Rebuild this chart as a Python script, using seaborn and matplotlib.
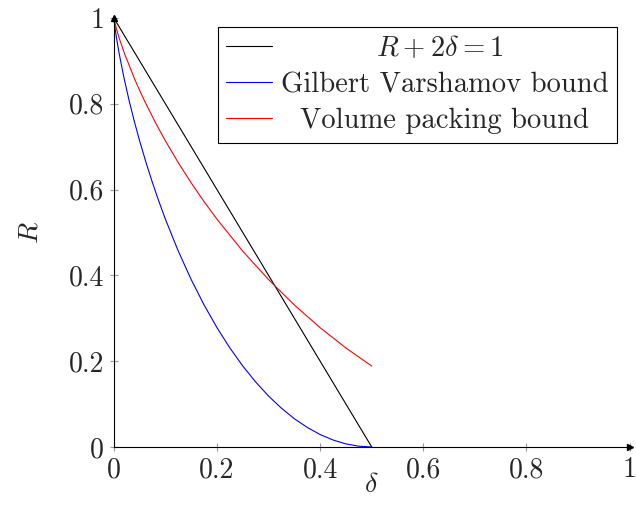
import matplotlib
matplotlib.use("Agg")
import matplotlib.pyplot as plt
import pandas as pd
import seaborn as sns

# values
line_delta = [0.0, 0.5]
line_rate = [1.0, 0.0]

gv_delta = [0.0, 0.0025, 0.005, 0.01, 0.02, 0.03, 0.04, 0.05, 0.0625, 0.075,
            0.0875, 0.1, 0.125, 0.15, 0.175, 0.2, 0.225, 0.25, 0.275, 0.3,
            0.325, 0.35, 0.375, 0.4, 0.425, 0.45, 0.475, 0.5]
gv_rate = [1.0, 0.9748, 0.9546, 0.9192, 0.8586, 0.8056, 0.7577, 0.7136, 0.6627,
           0.6157, 0.5719, 0.5310, 0.4564, 0.3902, 0.3310, 0.2781, 0.2308,
           0.1887, 0.1515, 0.1187, 0.0903, 0.0659, 0.0456, 0.0290, 0.0163,
           0.0072, 0.0018, 0.0]

vp_delta = [0.0, 0.005, 0.01, 0.02, 0.04, 0.05, 0.06, 0.08, 0.1, 0.125, 0.15,
            0.175, 0.2, 0.25, 0.3, 0.35, 0.4, 0.45, 0.5]
vp_rate = [1.0, 0.9748, 0.9546, 0.9192, 0.8586, 0.8313, 0.8056, 0.7577, 0.7136,
           0.6627, 0.6157, 0.5719, 0.5310, 0.4564, 0.3902, 0.3310, 0.2781,
           0.2308, 0.1887]

tick_values = [0, 0.2, 0.4, 0.6, 0.8, 1]
tick_labels = ["0", "0.2", "0.4", "0.6", "0.8", "1"]

series = [
    (line_delta, line_rate, "black", r"$R+2\delta=1$"),
    (gv_delta, gv_rate, "blue", "Gilbert Varshamov bound"),
    (vp_delta, vp_rate, "red", "Volume packing bound"),
]

sns.set_style("ticks")
plt.rcParams["font.family"] = ["cmr10", "DejaVu Serif"]
plt.rcParams["mathtext.fontset"] = "cm"
plt.rcParams["axes.formatter.use_mathtext"] = True
plt.rcParams["font.size"] = 20

fig = plt.figure(figsize=(6.36, 5.22), dpi=100)
ax = fig.add_axes([0.179, 0.1437, 0.811, 0.8218])

for xs, ys, color, label in series:
    df = pd.DataFrame({"delta": xs, "R": ys})
    sns.lineplot(data=df, x="delta", y="R", color=color, label=label,
                 linewidth=0.8, ax=ax, clip_on=False)

ax.set_xlim(0, 1)
ax.set_ylim(0, 1)
ax.set_xticks(tick_values)
ax.set_xticklabels(tick_labels)
ax.set_yticks(tick_values)
ax.set_yticklabels(tick_labels)
ax.tick_params(direction="inout", length=6, width=0.8, color="#999999",
               labelsize=20, pad=4)

for side in ["top", "right"]:
    ax.spines[side].set_visible(False)
for side in ["left", "bottom"]:
    ax.spines[side].set_linewidth(0.8)
    ax.spines[side].set_color("black")

# arrow heads at the axis ends
ax.plot(1, 0, ">k", markersize=5, transform=ax.get_yaxis_transform(),
        clip_on=False)
ax.plot(0, 1, "^k", markersize=5, transform=ax.get_xaxis_transform(),
        clip_on=False)

ax.set_xlabel(r"$\delta$", fontsize=20, labelpad=-8)
ax.set_ylabel(r"$R$", fontsize=20, labelpad=18)

# pgfplots centres the legend entries; pad with leading spaces to mimic it
LEG_SIZE = 20.6
renderer = fig.canvas.get_renderer()


def text_width(s):
    t = fig.text(0, 0, s, fontsize=LEG_SIZE)
    w = t.get_window_extent(renderer).width
    t.remove()
    return w


handles, labels = ax.get_legend_handles_labels()
widest = max(text_width(s) for s in labels)
centred = []
for s in labels:
    target = (widest - text_width(s)) / 2
    pad = ""
    while text_width(pad + " " + s) - text_width(s) <= target + 2:
        pad += " "
    centred.append(pad + s)

leg = ax.legend(handles, centred, loc="upper right",
                bbox_to_anchor=(0.975, 0.979), fontsize=LEG_SIZE,
                frameon=True, fancybox=False, framealpha=1,
                edgecolor="black", handlelength=1.6, handletextpad=0.3,
                borderpad=0.3, labelspacing=0.33, borderaxespad=0)
leg.get_frame().set_linewidth(0.8)

fig.savefig("out.png", dpi=100)
